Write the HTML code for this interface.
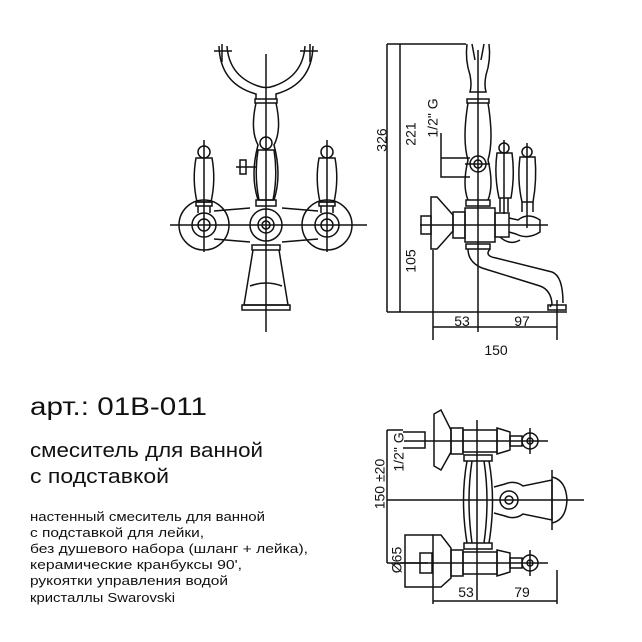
<!DOCTYPE html>
<html><head><meta charset="utf-8"><style>
html,body{margin:0;padding:0;background:#fff;width:642px;height:642px;overflow:hidden}
svg{display:block}
text{font-family:"Liberation Sans",sans-serif;fill:#111}
</style></head><body>
<svg width="642" height="642" viewBox="0 0 642 642" xmlns="http://www.w3.org/2000/svg">
<g fill="none" stroke="#111" stroke-width="1.5">
<!-- FRONT VIEW -->
<line x1="266" y1="54" x2="266" y2="332"/>
<line x1="170" y1="225" x2="367" y2="225"/>
<path d="M219 46 Q220 84 256 94 L256 99 M313 46 Q312 84 276 94 L276 99"/>
<path d="M227 46 Q229 76 258 86 Q266 89 274 86 Q303 76 305 46"/>
<line x1="214" y1="51" x2="232" y2="51"/><line x1="300" y1="51" x2="318" y2="51"/>
<line x1="222" y1="44" x2="222" y2="62"/><line x1="310" y1="44" x2="310" y2="62"/>
<rect x="255" y="99" width="22" height="4"/>
<path d="M256 103 Q250 130 258 145 Q250 175 258 200 M276 103 Q282 130 274 145 Q282 175 274 200"/>
<!-- center handle -->
<circle cx="266" cy="143" r="6"/>
<path d="M258 150 Q254 175 259 200 L273 200 Q278 175 274 150 Z"/>
<rect x="256" y="200" width="20" height="6"/>
<rect x="240" y="160" width="6" height="14"/><line x1="236" y1="167" x2="256" y2="167"/>
<!-- body arms -->
<path d="M214 211 L250 208 M214 239 L250 242 M282 208 L318 211 M282 242 L318 239"/>
<circle cx="266" cy="225" r="16"/><circle cx="266" cy="225" r="8"/><circle cx="266" cy="225" r="4"/>
<!-- rosettes -->
<circle cx="204" cy="225" r="25"/><circle cx="327" cy="225" r="25"/>
<circle cx="204" cy="225" r="12"/><circle cx="204" cy="225" r="6"/>
<circle cx="327" cy="225" r="12"/><circle cx="327" cy="225" r="6"/>
<line x1="204" y1="140" x2="204" y2="252"/><line x1="327" y1="140" x2="327" y2="252"/>
<circle cx="204" cy="152" r="6"/><circle cx="327" cy="152" r="6"/>
<path d="M196 158 Q192 180 197 202 L211 202 Q216 180 212 158 Z"/>
<path d="M319 158 Q315 180 320 202 L334 202 Q339 180 335 158 Z"/>
<rect x="196" y="202" width="16" height="4"/><rect x="319" y="202" width="16" height="4"/>
<path d="M198 206 L198 213 M210 206 L210 213 M321 206 L321 213 M333 206 L333 213"/>
<!-- spout cone -->
<rect x="252" y="245" width="28" height="5"/>
<path d="M253 250 L244 305 L288 305 L279 250"/>
<path d="M250 286 Q266 280 282 286"/>
<rect x="242" y="305" width="48" height="5"/>
<!-- SIDE VIEW -->
<line x1="387" y1="44" x2="387" y2="312"/><line x1="400" y1="44" x2="400" y2="312"/>
<line x1="387" y1="44" x2="466" y2="44"/>
<line x1="387" y1="312" x2="567" y2="312"/>
<line x1="478" y1="50" x2="478" y2="332"/>
<line x1="420" y1="225" x2="548" y2="225"/>
<path d="M467 44 Q465 60 470 75 Q472 85 470 92 L486 92 Q484 85 486 75 Q491 60 489 44"/>
<path d="M472 44 L475 60 M484 44 L481 60"/>
<rect x="467" y="99" width="22" height="4"/>
<path d="M468 103 Q462 140 468 160 Q462 185 468 200 M488 103 Q494 140 488 160 Q494 185 488 200"/>
<rect x="466" y="200" width="24" height="6"/>
<circle cx="478" cy="164" r="8"/><circle cx="478" cy="164" r="4"/>
<line x1="465" y1="164" x2="490" y2="164"/>
<path d="M441 133 L441 177 L470 177 M441 158 L470 158"/>
<!-- side handles -->
<circle cx="504" cy="148" r="5"/><circle cx="527" cy="152" r="5"/>
<path d="M497 153 Q494 175 499 198 L511 198 Q515 175 512 153 Z"/>
<path d="M520 157 Q517 180 522 202 L533 202 Q537 180 535 157 Z"/>
<line x1="504" y1="140" x2="504" y2="214"/><line x1="527" y1="143" x2="527" y2="228"/>
<path d="M500 198 L500 212 M508 198 L508 212 M522 202 L522 212 M533 202 L533 212"/>
<!-- horizontal body -->
<rect x="421" y="216" width="10" height="18"/>
<path d="M431 197 L431 249 L437 249 L453 231 L453 215 L437 197 Z"/>
<rect x="453" y="212" width="12" height="26"/>
<rect x="465" y="208" width="30" height="34"/>
<rect x="495" y="213" width="14" height="24"/>
<path d="M509 218 L518 220 Q528 212 540 220 L540 232 Q528 240 516 234 L509 232"/>
<path d="M500 237 Q510 246 520 240"/>
<rect x="466" y="244" width="24" height="5"/>
<!-- spout -->
<path d="M468 249 Q468 262 482 268 L540 286 Q551 290 552 304 L550 307 M490 249 Q484 256 496 258 L552 272 Q563 276 563 303"/>
<rect x="548" y="305" width="18" height="5"/>
<!-- dims side -->
<line x1="433" y1="250" x2="433" y2="340"/><line x1="557" y1="300" x2="557" y2="340"/>
<line x1="433" y1="327" x2="557" y2="327"/>
<!-- BOTTOM VIEW -->
<line x1="387" y1="430" x2="387" y2="563"/>
<line x1="387" y1="430" x2="403" y2="430"/><line x1="387" y1="563" x2="428" y2="563"/>
<line x1="387" y1="500" x2="584" y2="500"/>
<line x1="477" y1="420" x2="477" y2="600"/>
<line x1="404" y1="441" x2="548" y2="441"/><line x1="400" y1="563" x2="548" y2="563"/>
<path d="M403 432 L425 432 L425 448 L403 448"/>
<path d="M434 414 L441 410 L451 430 L451 452 L441 470 L434 466 Z"/>
<rect x="451" y="428" width="12" height="26"/>
<rect x="463" y="430" width="34" height="22"/>
<path d="M497 428 L510 432 L510 450 L497 454 Z"/>
<rect x="510" y="436" width="12" height="10"/>
<circle cx="530" cy="441" r="8"/><circle cx="530" cy="441" r="3"/>
<line x1="530" y1="428" x2="530" y2="454"/>
<rect x="405" y="535" width="28" height="52"/>
<rect x="420" y="553" width="12" height="20"/>
<path d="M433 535 L441 535 L451 548 L451 578 L441 587 L433 587"/>
<rect x="451" y="550" width="12" height="26"/>
<rect x="463" y="552" width="34" height="22"/>
<path d="M497 550 L510 553 L510 572 L497 576 Z"/>
<rect x="510" y="558" width="12" height="10"/>
<circle cx="530" cy="563" r="8"/><circle cx="530" cy="563" r="3"/>
<line x1="530" y1="550" x2="530" y2="576"/>
<rect x="464" y="455" width="28" height="6"/><rect x="464" y="543" width="28" height="6"/>
<path d="M467 461 Q460 500 467 543 M489 461 Q496 500 489 543 M472 461 Q466 500 472 543 M484 461 Q490 500 484 543"/>
<path d="M494 487 L505 484 Q515 480 523 486 L552 480 L552 520 L523 514 Q515 520 505 516 L494 513"/>
<path d="M552 477 Q566 480 567 500 Q566 520 552 523"/>
<circle cx="509" cy="500" r="9"/><circle cx="509" cy="500" r="4"/>
<line x1="552" y1="470" x2="552" y2="530"/>
<line x1="433" y1="587" x2="433" y2="604"/><line x1="557" y1="570" x2="557" y2="604"/>
<line x1="433" y1="601" x2="557" y2="601"/>
</g>
<g font-size="14">
<text x="383" y="140" transform="rotate(-90 383 140)" text-anchor="middle" dominant-baseline="middle">326</text>
<text x="412" y="134" transform="rotate(-90 412 134)" text-anchor="middle" dominant-baseline="middle">221</text>
<text x="412" y="261" transform="rotate(-90 412 261)" text-anchor="middle" dominant-baseline="middle">105</text>
<text x="434" y="118" transform="rotate(-90 434 118)" text-anchor="middle" dominant-baseline="middle">1/2" G</text>
<text x="462" y="326" text-anchor="middle">53</text>
<text x="522" y="326" text-anchor="middle">97</text>
<text x="496" y="355" text-anchor="middle">150</text>
<text x="381" y="484" transform="rotate(-90 381 484)" text-anchor="middle" dominant-baseline="middle">150 ±20</text>
<text x="400" y="452" transform="rotate(-90 400 452)" text-anchor="middle" dominant-baseline="middle">1/2" G</text>
<text x="398" y="560" transform="rotate(-90 398 560)" text-anchor="middle" dominant-baseline="middle">Ø65</text>
<text x="466" y="597" text-anchor="middle">53</text>
<text x="522" y="597" text-anchor="middle">79</text>
</g>
<text x="30" y="415" font-size="25" textLength="177" lengthAdjust="spacingAndGlyphs">арт.: 01B-011</text>
<text x="30" y="457" font-size="20" textLength="233" lengthAdjust="spacingAndGlyphs">смеситель для ванной</text>
<text x="30" y="483" font-size="20" textLength="139" lengthAdjust="spacingAndGlyphs">с подставкой</text>
<g font-size="13">
<text x="30" y="521" textLength="235" lengthAdjust="spacingAndGlyphs">настенный смеситель для ванной</text>
<text x="30" y="537" textLength="174" lengthAdjust="spacingAndGlyphs">с подставкой для лейки,</text>
<text x="30" y="553" textLength="278" lengthAdjust="spacingAndGlyphs">без душевого набора (шланг + лейка),</text>
<text x="30" y="569" textLength="212" lengthAdjust="spacingAndGlyphs">керамические кранбуксы 90',</text>
<text x="30" y="585" textLength="198" lengthAdjust="spacingAndGlyphs">рукоятки управления водой</text>
<text x="30" y="602" textLength="145" lengthAdjust="spacingAndGlyphs">кристаллы Swarovski</text>
</g>
</svg>
</body></html>
